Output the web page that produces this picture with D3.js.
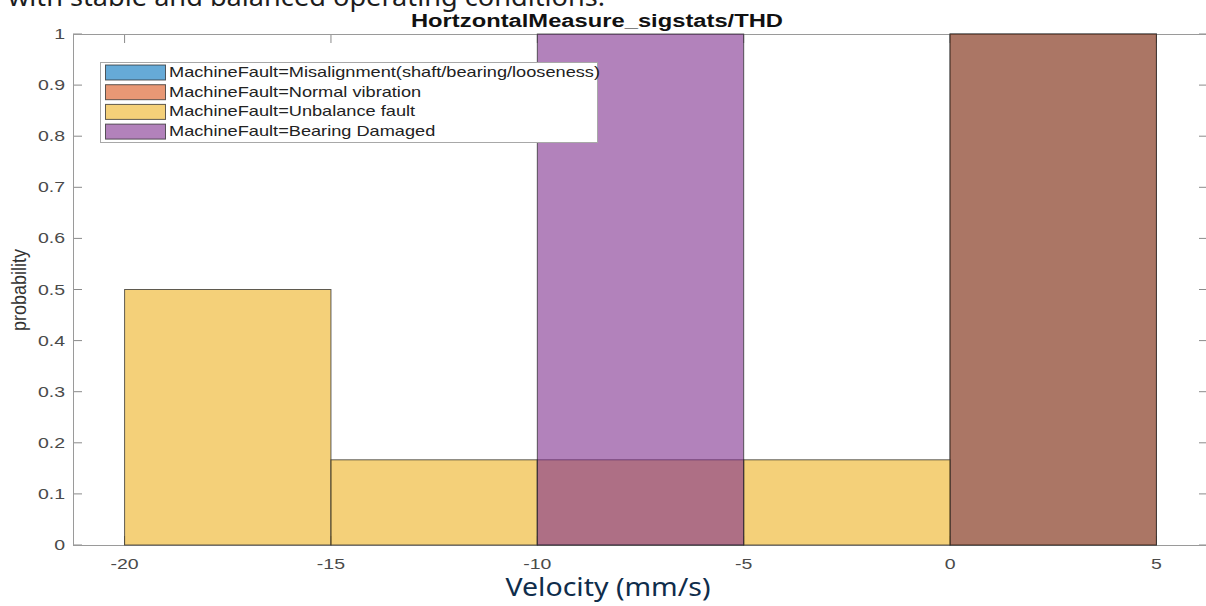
<!DOCTYPE html>
<html>
<head>
<meta charset="utf-8">
<script src="https://cdn.jsdelivr.net/npm/d3@7"></script>
<style>
  html, body { margin: 0; padding: 0; background: #fff; }
  svg { display: block; }
</style>
</head>
<body>
<svg id="chart" width="1206" height="606"></svg>
<script>
// histogram bins (velocity, mm/s)
const binEdges = [-20, -15, -10, -5, 0, 5];
const seriesNames = [
  "MachineFault=Misalignment(shaft/bearing/looseness)",
  "MachineFault=Normal vibration",
  "MachineFault=Unbalance fault",
  "MachineFault=Bearing Damaged"
];
// probability per bin, one array per series
const misalignment = [0, 0, 0, 0, 1];
const normalVibration = [0, 0, 0, 0, 1];
const unbalanceFault = [0.5, 0.1667, 0.1667, 0.1667, 0];
const bearingDamaged = [0, 0, 1, 0, 0];
const xTicks = [-20, -15, -10, -5, 0, 5];
const yTicks = [0, 0.1, 0.2, 0.3, 0.4, 0.5, 0.6, 0.7, 0.8, 0.9, 1];

const seriesValues = [misalignment, normalVibration, unbalanceFault, bearingDamaged];
const colors = ["#0072BD", "#D95319", "#EDB120", "#7E2F8E"];

const svg = d3.select("#chart");
const stretch = 1.3; // glyphs in the picture are wide

const x = d3.scaleLinear().domain([-21.25, 6.25]).range([73, 1208]);
const y = d3.scaleLinear().domain([0, 1]).range([545, 34]);

// text above the figure, cut by the top edge
svg.append("text")
  .attr("transform", "translate(8,6) scale(1.045,1)")
  .attr("font-family", "'Noto Sans', sans-serif")
  .attr("font-size", 26)
  .attr("fill", "#1d1d1d")
  .text("with stable and balanced operating conditions.");

// ticks (inward, all four sides) - drawn under the bars
const tickLen = 9;
const tickColor = "#8a8a8a";
const ticks = svg.append("g").attr("stroke", tickColor).attr("stroke-width", 1);
ticks.selectAll("line.yl").data(yTicks).enter().append("line")
  .attr("x1", x.range()[0]).attr("x2", x.range()[0] + tickLen)
  .attr("y1", d => y(d)).attr("y2", d => y(d));
ticks.selectAll("line.yr").data(yTicks).enter().append("line")
  .attr("x1", x.range()[1] - tickLen).attr("x2", x.range()[1])
  .attr("y1", d => y(d)).attr("y2", d => y(d));
ticks.selectAll("line.xb").data(xTicks).enter().append("line")
  .attr("x1", d => x(d)).attr("x2", d => x(d))
  .attr("y1", y(0)).attr("y2", y(0) - tickLen);
ticks.selectAll("line.xt").data(xTicks).enter().append("line")
  .attr("x1", d => x(d)).attr("x2", d => x(d))
  .attr("y1", y(1)).attr("y2", y(1) + tickLen);

// axis box
svg.append("rect")
  .attr("x", x.range()[0] + 0.5).attr("y", y(1) + 0.5)
  .attr("width", x.range()[1] - x.range()[0]).attr("height", y(0) - y(1))
  .attr("fill", "none").attr("stroke", "#9a9a9a");

// bars
const bins = d3.range(binEdges.length - 1);
seriesValues.forEach((vals, s) => {
  svg.append("g").selectAll("rect")
    .data(bins.filter(i => vals[i] > 0))
    .enter().append("rect")
    .attr("x", i => x(binEdges[i]))
    .attr("y", i => y(vals[i]))
    .attr("width", i => x(binEdges[i + 1]) - x(binEdges[i]))
    .attr("height", i => y(0) - y(vals[i]))
    .attr("fill", colors[s])
    .attr("fill-opacity", 0.6)
    .attr("stroke", "#2b2b2b")
    .attr("stroke-opacity", 0.75)
    .attr("stroke-width", 1);
});

// tick labels
const labelFont = "Liberation Sans, Arial, sans-serif";
svg.append("g").selectAll("text")
  .data(xTicks).enter().append("text")
  .attr("transform", d => `translate(${x(d)},${569}) scale(${stretch},1)`)
  .attr("text-anchor", "middle")
  .attr("font-family", labelFont).attr("font-size", 15)
  .attr("fill", "#4a4a4a")
  .text(d => d3.format("d")(d).replace("−", "-"));

svg.append("g").selectAll("text")
  .data(yTicks).enter().append("text")
  .attr("transform", d => `translate(65,${y(d) + 5}) scale(${stretch},1)`)
  .attr("text-anchor", "end")
  .attr("font-family", labelFont).attr("font-size", 15)
  .attr("fill", "#4a4a4a")
  .text(d => d === 0 || d === 1 ? String(d) : d3.format(".1f")(d));

// y label
svg.append("text")
  .attr("transform", `translate(26,290) rotate(-90) scale(1,1.15)`)
  .attr("text-anchor", "middle")
  .attr("font-family", labelFont).attr("font-size", 18)
  .attr("fill", "#333")
  .text("probability");

// title
svg.append("text")
  .attr("transform", `translate(597,27) scale(1.32,1)`)
  .attr("text-anchor", "middle")
  .attr("font-family", labelFont).attr("font-size", 18)
  .attr("font-weight", "bold")
  .attr("fill", "#111")
  .text("HortzontalMeasure_sigstats/THD");

// x label
svg.append("text")
  .attr("transform", "translate(608,596) scale(1.14,1)")
  .attr("text-anchor", "middle")
  .attr("font-family", "'Noto Sans', sans-serif")
  .attr("font-size", 25)
  .attr("fill", "#0f2d4b")
  .text("Velocity (mm/s)");

// legend
const legend = svg.append("g");
legend.append("rect")
  .attr("x", 100.5).attr("y", 62.5).attr("width", 497).attr("height", 80)
  .attr("fill", "#fff").attr("stroke", "#a8a8a8");
const rows = legend.selectAll("g.row").data(seriesNames).enter().append("g")
  .attr("transform", (d, i) => `translate(0,${72 + i * 19.7})`);
rows.append("rect")
  .attr("x", 105.5).attr("y", -7).attr("width", 60).attr("height", 15)
  .attr("fill", (d, i) => colors[i]).attr("fill-opacity", 0.6)
  .attr("stroke", "#2b2b2b").attr("stroke-opacity", 0.75);
rows.append("text")
  .attr("transform", `translate(169,5) scale(${stretch},1)`)
  .attr("font-family", labelFont).attr("font-size", 14)
  .attr("fill", "#222")
  .text(d => d);
</script>
</body>
</html>
